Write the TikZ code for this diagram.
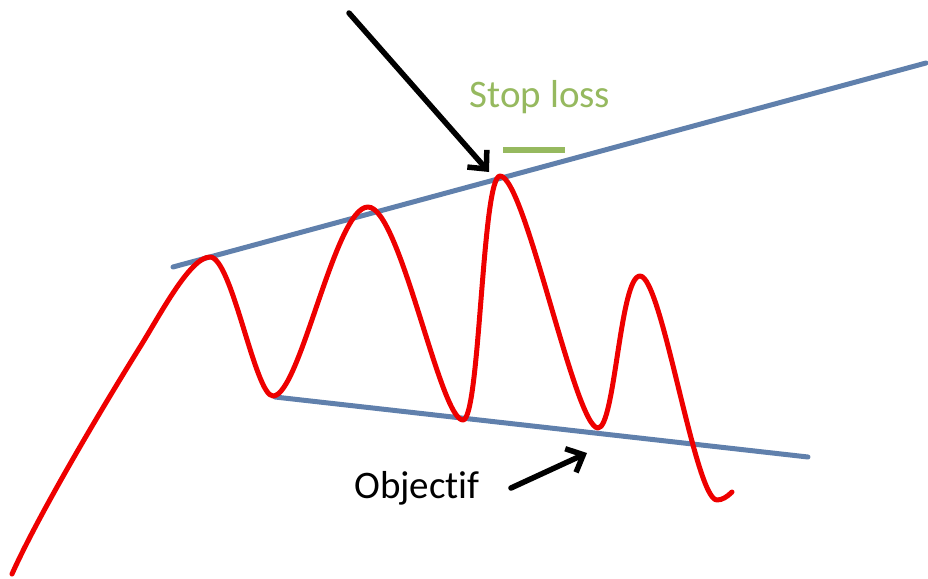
\documentclass[tikz,border=0pt]{standalone}
\usepackage{fontspec}
\setmainfont[Ligatures={NoCommon}]{Carlito}
\usetikzlibrary{arrows.meta}
\definecolor{trendblue}{RGB}{96,128,172}
\definecolor{slgreen}{RGB}{150,185,95}
\definecolor{pricered}{RGB}{238,0,0}
\tikzset{
  trend/.style={draw=trendblue, line width=5pt, line cap=round},
  price/.style={draw=pricered, line width=5pt, line cap=round, line join=round},
  pointer/.style={draw=black, line width=5.5pt, line cap=round,
    -{Straight Barb[length=14pt,width=26pt,line width=5.5pt]}},
  label/.style={inner sep=0pt, anchor=base, font=\fontsize{39}{45}\selectfont}
}
\begin{document}
\begin{tikzpicture}[x=1pt,y=-1pt]
\useasboundingbox (0,0) rectangle (928,578);
% trend lines
\coordinate (u1) at (173,267);
\coordinate (u2) at (926,63);
\coordinate (l1) at (275,397);
\coordinate (l2) at (808,457);
\draw[trend] (u1) -- (u2);
\draw[trend] (l1) -- (l2);
% price curve
\draw[price] (12,574) .. controls (42,507) and (115,387) .. (140,347)
  .. controls (160,315) and (190,257) .. (210,257)
  .. controls (232,257) and (255,396) .. (273,396)
  .. controls (300,396) and (335,207) .. (368,207)
  .. controls (400,207) and (440,420) .. (463,420)
  .. controls (480,420) and (482,176) .. (500,176)
  .. controls (525,176) and (575,428) .. (598,428)
  .. controls (615,428) and (620,276) .. (640,276)
  .. controls (662,276) and (695,500) .. (717,500)
  .. controls (722,500) and (727,497) .. (732,492);
% stop loss mark
\coordinate (g1) at (503,150);
\coordinate (g2) at (565,150);
\draw[draw=slgreen, line width=5.5pt] (g1) -- (g2);
\node[label, text=slgreen] (stop) at (540,107) {Stop loss};
\node[label, text=black] (obj) at (417,498) {Objectif};
% arrows
\coordinate (a1) at (349,13);
\coordinate (a2) at (489,172);
\draw[pointer] (a1) -- (a2);
\coordinate (b1) at (511,488);
\coordinate (b2) at (587,453);
\draw[pointer] (b1) -- (b2);
\end{tikzpicture}
\end{document}
